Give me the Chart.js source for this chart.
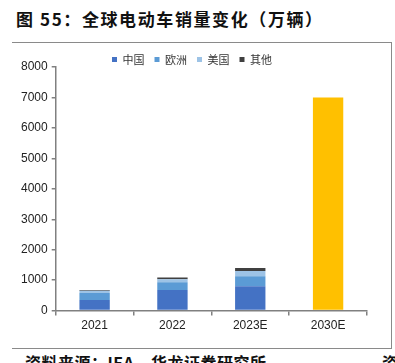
<!DOCTYPE html>
<html>
<head>
<meta charset="utf-8">
<script src="https://cdn.jsdelivr.net/npm/chart.js@4"></script>
<style>
  html, body { margin: 0; padding: 0; background: #fff; }
  body { width: 395px; height: 363px; overflow: hidden; position: relative; }
  #title {
    position: absolute; left: 16px; top: 6px;
    font: bold 17px "Noto Sans CJK SC", sans-serif; letter-spacing: 1.6px;
    color: #111; white-space: nowrap;
  }
  #frame {
    position: absolute; left: 12px; top: 42px; width: 379px; height: 305px;
    border-top: 1.5px solid #8a8a8a; border-right: 1.5px solid #8a8a8a; border-bottom: 1.5px solid #8a8a8a;
  }
  #box { position: absolute; left: 0; top: 44px; width: 391px; height: 304px; }
  #foot {
    position: absolute; left: 25px; top: 350px;
    font: bold 16px "Noto Sans CJK SC", sans-serif; letter-spacing: 0.5px;
    color: #111; white-space: nowrap;
  }
  #foot2 {
    position: absolute; left: 382px; top: 350px;
    font: bold 16px "Noto Sans CJK SC", sans-serif; color: #111;
  }
</style>
</head>
<body>
<div id="title">图 55：全球电动车销量变化（万辆）</div>
<div id="frame"></div>
<div id="box"><canvas id="grafico"></canvas></div>
<div id="foot">资料来源：IEA，华龙证券研究所</div>
<div id="foot2">资</div>

<script>
// datos (万辆)
const categorias = ['2021', '2022', '2023E', '2030E'];
const nombresSeries = ['中国', '欧洲', '美国', '其他'];
const china = [350, 680, 800, null];
const europa = [230, 250, 330, null];
const eeuu = [70, 100, 170, null];
const otros = [30, 60, 100, null];
const total2030 = [null, null, null, 7000];
const ticksY = [0, 1000, 2000, 3000, 4000, 5000, 6000, 7000, 8000];

const colores = ['#4472c4', '#5b9bd5', '#9dc3e6', '#404040'];
const colorEje = '#808080';
const altoLeyenda = 23; // alto fijo de la leyenda

const ctx = document.getElementById('grafico');

const series = [china, europa, eeuu, otros];
const datasets = series.map((valores, i) => ({
    label: nombresSeries[i],
    data: valores,
    backgroundColor: colores[i],
    borderWidth: 0,
    barPercentage: 0.39,
    categoryPercentage: 1
}));
// barra amarilla 2030E, fuera de la leyenda
datasets.push({
    label: 'total',
    data: total2030,
    backgroundColor: '#ffc000',
    borderWidth: 0,
    barPercentage: 0.39,
    categoryPercentage: 1
});

// ajusta el alto de la leyenda para dejar el área del gráfico donde toca
const ajusteLeyenda = {
    id: 'ajusteLeyenda',
    beforeInit(chart) {
        const fitOriginal = chart.legend.fit;
        chart.legend.fit = function () {
            fitOriginal.call(this);
            this.height = altoLeyenda;
        };
    }
};

new Chart(ctx, {
    type: 'bar',
    data: { labels: categorias, datasets: datasets },
    plugins: [ajusteLeyenda],
    options: {
        responsive: true,
        maintainAspectRatio: false,
        animation: false,
        layout: { padding: { left: 17, right: 24, top: 0, bottom: 12 } },
        plugins: {
            tooltip: { enabled: false },
            legend: {
                position: 'top',
                labels: {
                    filter: (item) => item.text !== 'total',
                    boxWidth: 5,
                    boxHeight: 5,
                    padding: 10,
                    color: '#333',
                    font: { family: '"Noto Sans CJK SC", sans-serif', size: 11 }
                }
            }
        },
        scales: {
            x: {
                stacked: true,
                border: { color: colorEje, width: 1.5 },
                grid: { display: true, drawOnChartArea: false, color: colorEje, tickLength: 5, lineWidth: 1.5 },
                ticks: {
                    color: '#222',
                    padding: 3,
                    font: { family: '"Liberation Sans", Arial, sans-serif', size: 12 }
                }
            },
            y: {
                stacked: true,
                min: 0,
                max: 8000,
                afterBuildTicks: (eje) => { eje.ticks = ticksY.map(v => ({ value: v })); },
                border: { color: colorEje, width: 1.5 },
                grid: { display: true, drawOnChartArea: false, color: colorEje, tickLength: 4, lineWidth: 1.5 },
                ticks: {
                    color: '#222',
                    padding: 4,
                    callback: (v) => String(v),
                    font: { family: '"Liberation Sans", Arial, sans-serif', size: 12 }
                }
            }
        }
    }
});
</script>
</body>
</html>
